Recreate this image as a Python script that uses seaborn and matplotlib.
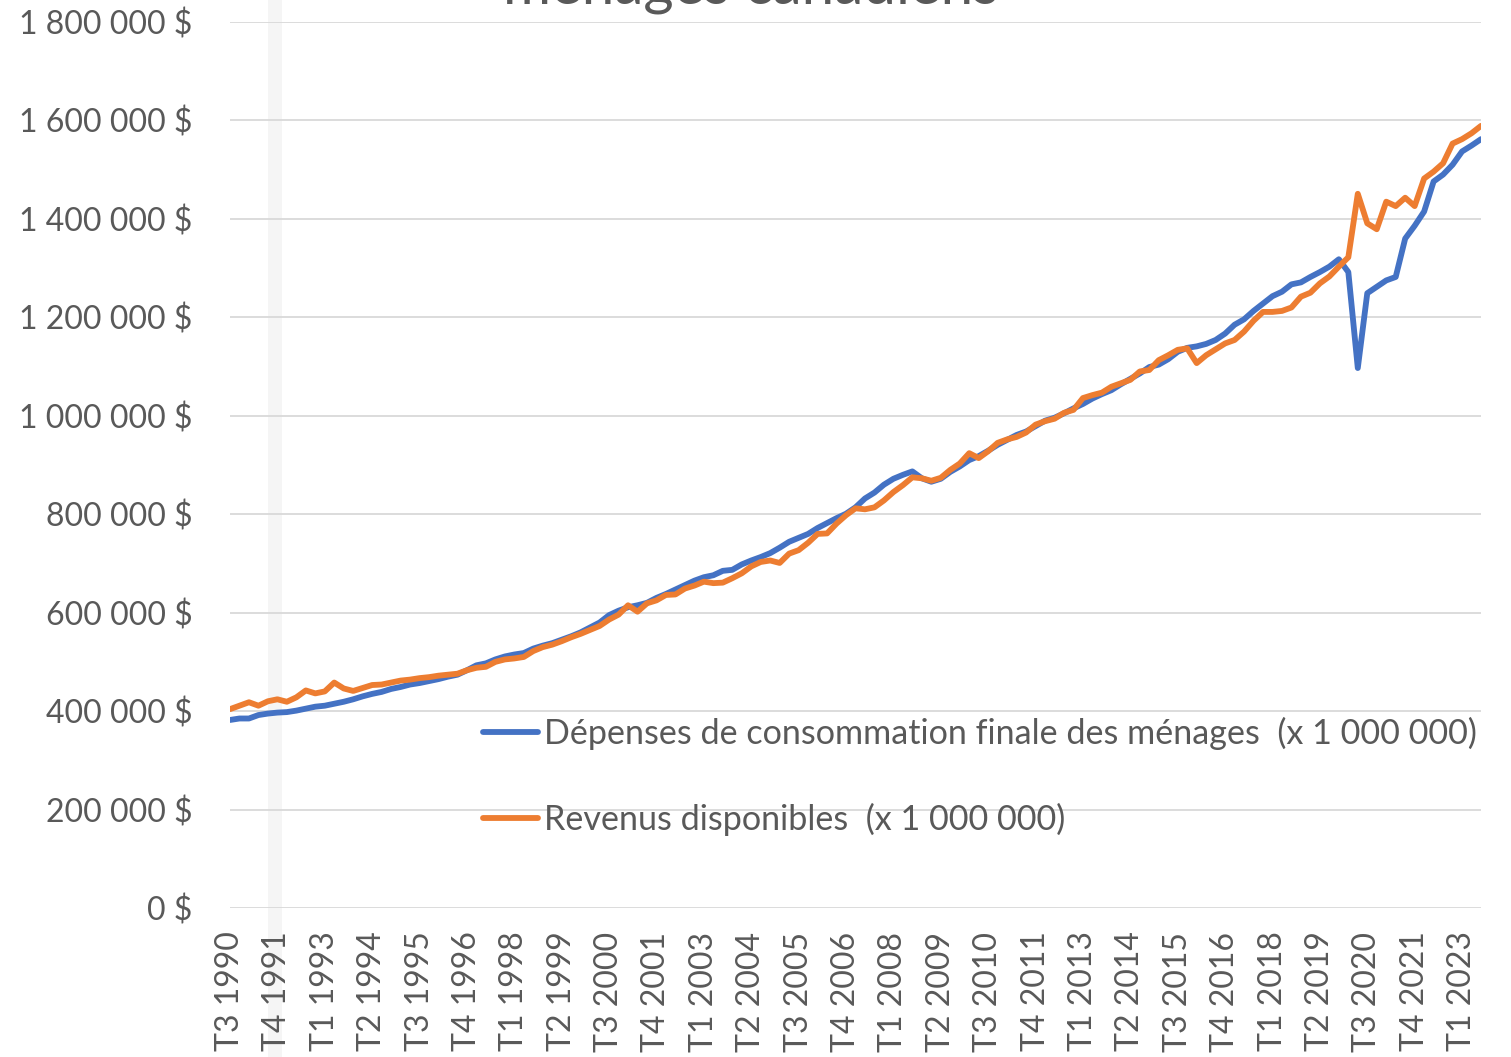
import matplotlib
matplotlib.use("Agg")
import matplotlib.pyplot as plt
import matplotlib.patches as mpatches
import pandas as pd
import seaborn as sns
from matplotlib.ticker import FuncFormatter

# Trimestres T3 1990 -> T3 2023, valeurs en millions de $
first_year = 1990
first_quarter = 3

depenses = [
    382, 385, 385, 392, 395, 397, 398, 401, 405, 409,
    411, 415, 419, 424, 430, 435, 439, 445, 449, 454,
    457, 461, 465, 470, 474, 483, 493, 497, 505, 511,
    515, 518, 527, 533, 538, 545, 552, 560, 570, 580,
    595, 604, 611, 615, 620, 630, 638, 647, 656, 665,
    672, 676, 685, 687, 698, 706, 713, 721, 732, 744,
    752, 760, 772, 782, 792, 801, 814, 832, 844, 860,
    872, 880, 887, 873, 866, 872, 886, 897, 910, 918,
    929, 941, 951, 961, 968, 979, 990, 996, 1005, 1015,
    1024, 1035, 1044, 1052, 1064, 1075, 1086, 1099, 1104, 1115,
    1130, 1138, 1141, 1146, 1154, 1167, 1185, 1196, 1213, 1228,
    1243, 1252, 1267, 1271, 1282, 1292, 1303, 1318, 1292, 1097,
    1249, 1262, 1275, 1282, 1360, 1386, 1415, 1476, 1490, 1510,
    1537, 1549, 1562,
]

revenus = [
    404, 411, 418, 411, 420, 424, 419, 428, 442, 436,
    440, 458, 446, 441, 447, 453, 454, 458, 462, 464,
    467, 469, 472, 474, 476, 483, 488, 490, 500, 505,
    507, 510, 522, 530, 535, 542, 550, 557, 565, 573,
    586, 596, 615, 602, 619, 625, 636, 637, 649, 655,
    663, 660, 661, 670, 680, 694, 703, 706, 701, 720,
    727, 742, 760, 761, 781, 798, 812, 810, 814, 828,
    845, 859, 875, 873, 868, 874, 890, 903, 924, 914,
    928, 945, 952, 957, 966, 982, 989, 994, 1006, 1012,
    1036, 1042, 1047, 1059, 1066, 1073, 1090, 1093, 1113, 1123,
    1134, 1137, 1107, 1123, 1135, 1147, 1154, 1171, 1193, 1211,
    1211, 1213, 1220, 1242, 1250, 1269, 1283, 1303, 1322, 1451,
    1391, 1379, 1435, 1426, 1443, 1426, 1482, 1496, 1513, 1553,
    1562, 1574, 1589,
]

series_names = [
    "Dépenses de consommation finale des ménages  (x 1 000 000)",
    "Revenus disponibles  (x 1 000 000)",
]
colors = ["#4472C4", "#ED7D31"]

quarters = []
for k in range(len(depenses)):
    q = (first_quarter - 1 + k) % 4 + 1
    y = first_year + (first_quarter - 1 + k) // 4
    quarters.append(f"T{q} {y}")

df = pd.DataFrame({
    "idx": list(range(len(depenses))) * 2,
    "valeur": [v * 1000 for v in depenses] + [v * 1000 for v in revenus],
    "serie": [series_names[0]] * len(depenses) + [series_names[1]] * len(revenus),
})

sns.set_theme(style="white")
plt.rcParams["font.family"] = ["Lato", "DejaVu Sans"]
text_color = "#595959"
grid_color = "#d9d9d9"

W, H = 1511, 1057
fig = plt.figure(figsize=(W / 100, H / 100), dpi=100)
ax = fig.add_axes([230 / W, 149 / H, (1481 - 230) / W, (908 - 22) / H])
ax.patch.set_alpha(0)

# faint vertical shadow band seen in the screenshot
fig.patches.append(mpatches.Rectangle((268 / W, 0), 14 / W, 1, transform=fig.transFigure,
                                      facecolor="#f5f5f5", edgecolor="none", zorder=-5))

sns.lineplot(data=df, x="idx", y="valeur", hue="serie", palette=colors,
             linewidth=4.2, ax=ax, legend=False)
for line in ax.lines:
    line.set_solid_capstyle("round")
    line.set_solid_joinstyle("round")

ax.set_xlim(0, len(depenses) - 1)
ax.set_ylim(0, 1800000)
ax.set_yticks(range(0, 1800001, 200000))
ax.yaxis.set_major_formatter(FuncFormatter(lambda v, p: f"{int(v):,}".replace(",", " ") + " $"))
ax.set_xticks(range(0, len(quarters), 5))
ax.set_xticklabels(quarters[::5], rotation=90)

ax.grid(axis="y", color=grid_color, linewidth=1.3)
ax.set_axisbelow(True)
for s in ax.spines.values():
    s.set_visible(False)
ax.tick_params(axis="both", length=0, labelsize=23, colors=text_color)
ax.tick_params(axis="y", pad=27)
ax.tick_params(axis="x", pad=17)
ax.set_xlabel("")
ax.set_ylabel("")

handles = [plt.Line2D([], [], color=c, linewidth=4.2, solid_capstyle="round") for c in colors]
leg = fig.legend(handles, series_names, loc="upper left",
                 bbox_to_anchor=(483 / W, 1 - 717 / H), bbox_transform=fig.transFigure,
                 frameon=False, fontsize=24.6, handlelength=1.6, handletextpad=0.18,
                 labelspacing=1.55, borderpad=0, borderaxespad=0)
for t in leg.get_texts():
    t.set_color(text_color)

# title: only its lower part shows at the top edge of the screenshot
fig.text(751 / W, 1 - 4 / H, "ménages canadiens",
         ha="center", va="baseline", fontsize=42, color=text_color)

fig.savefig("out.png", dpi=100)
